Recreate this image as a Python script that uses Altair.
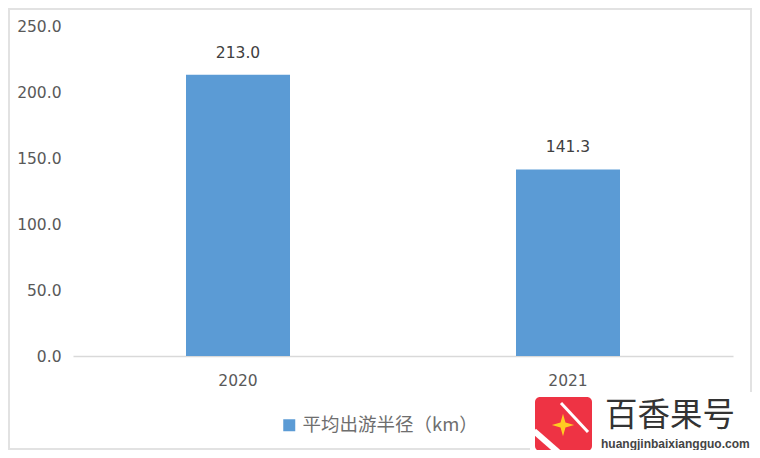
import altair as alt
import pandas as pd

years = ["2020", "2021"]
values = [213.0, 141.3]
series_name = "平均出游半径（km）"
y_ticks = [0, 50, 100, 150, 200, 250]
brand_name = "百香果号"
brand_url = "huangjinbaixiangguo.com"

BAR = "#5b9bd5"
TXT = "#595959"
LINE = "#d9d9d9"
FONT = "DejaVu Sans"
CJK = "Noto Sans CJK SC"

# plot origin in the screenshot
OX, OY = 73, 26
def sx(v): return v - OX
def sy(v): return v - OY

df = pd.DataFrame({"year": years, "value": values, "series": [series_name] * len(years)})
one = alt.Data(values=[{"k": 0}])

bars = alt.Chart(df).mark_bar(size=104).encode(
    x=alt.X("year:N", title=None, scale=alt.Scale(paddingInner=0, paddingOuter=0),
            axis=alt.Axis(labelAngle=0, labelFont=FONT, labelFontSize=15.5, labelColor=TXT,
                          labelPadding=17, ticks=False, domainColor=LINE, domainWidth=1.5, grid=False)),
    y=alt.Y("value:Q", title=None,
            scale=alt.Scale(domain=[0, 250], nice=False),
            axis=alt.Axis(values=y_ticks, format=".1f", labelFont=FONT, labelFontSize=15.5,
                          labelColor=TXT, labelPadding=12, ticks=False, domain=False, grid=False)),
    color=alt.Color("series:N", scale=alt.Scale(range=[BAR]),
                    legend=alt.Legend(title=None, orient="none", legendX=sx(280), legendY=sy(416),
                                      symbolType="square", symbolSize=144, symbolStrokeWidth=0,
                                      labelFont=CJK, labelFontSize=18.5, labelColor="#6e6e6e", labelOffset=4,
                                      labelLimit=300)),
)

labels = alt.Chart(df).mark_text(dy=-22, font=FONT, fontSize=15.5, color="#404040").encode(
    x="year:N", y="value:Q", text=alt.Text("value:Q", format=".1f"))

frame = alt.Chart(one).mark_rect(filled=False, stroke="#e2e2e2", strokeWidth=2).encode(
    x=alt.value(sx(9)), x2=alt.value(sx(751)), y=alt.value(sy(9)), y2=alt.value(sy(449)))

patch = alt.Chart(one).mark_rect(color="white").encode(
    x=alt.value(sx(530)), x2=alt.value(sx(760)), y=alt.value(sy(392)), y2=alt.value(sy(458)))

logo = alt.Chart(one).mark_rect(color="#ee3344", cornerRadius=5).encode(
    x=alt.value(sx(535)), x2=alt.value(sx(592)), y=alt.value(sy(397)), y2=alt.value(sy(451)))

band = alt.Chart(one).mark_rule(color="white", strokeWidth=6).encode(
    x=alt.value(sx(534)), x2=alt.value(sx(558)), y=alt.value(sy(431)), y2=alt.value(sy(452)))

swoosh = alt.Chart(one).mark_rule(color="white", strokeWidth=3).encode(
    x=alt.value(sx(561)), x2=alt.value(sx(588)), y=alt.value(sy(403)), y2=alt.value(sy(432)))

star = alt.Chart(one).mark_point(
    shape="M0,-1 L0.22,-0.22 L1,0 L0.22,0.22 L0,1 L-0.22,0.22 L-1,0 L-0.22,-0.22 Z",
    filled=True, color="#ffcc22", opacity=1, size=500).encode(
    x=alt.value(sx(563)), y=alt.value(sy(425)))

brand = alt.Chart(one).mark_text(text=brand_name, font=CJK, fontSize=32.5, color="#333333",
                                 align="left", baseline="middle").encode(
    x=alt.value(sx(605)), y=alt.value(sy(416)))

url = alt.Chart(one).mark_text(text=brand_url, font="Liberation Sans", fontSize=12, fontWeight="bold", color="#444444",
                               align="left", baseline="middle").encode(
    x=alt.value(sx(601)), y=alt.value(sy(444)))

chart = alt.layer(frame, bars, labels, patch, logo, band, swoosh, star, brand, url).properties(
    width=660, height=330,
    autosize=alt.AutoSizeParams(type="none"),
    padding={"left": 65, "top": 18, "right": 19, "bottom": 94},
    background="white",
).configure_view(stroke=None)

chart.save("out.html", embed_options={"renderer": "svg", "actions": False})
